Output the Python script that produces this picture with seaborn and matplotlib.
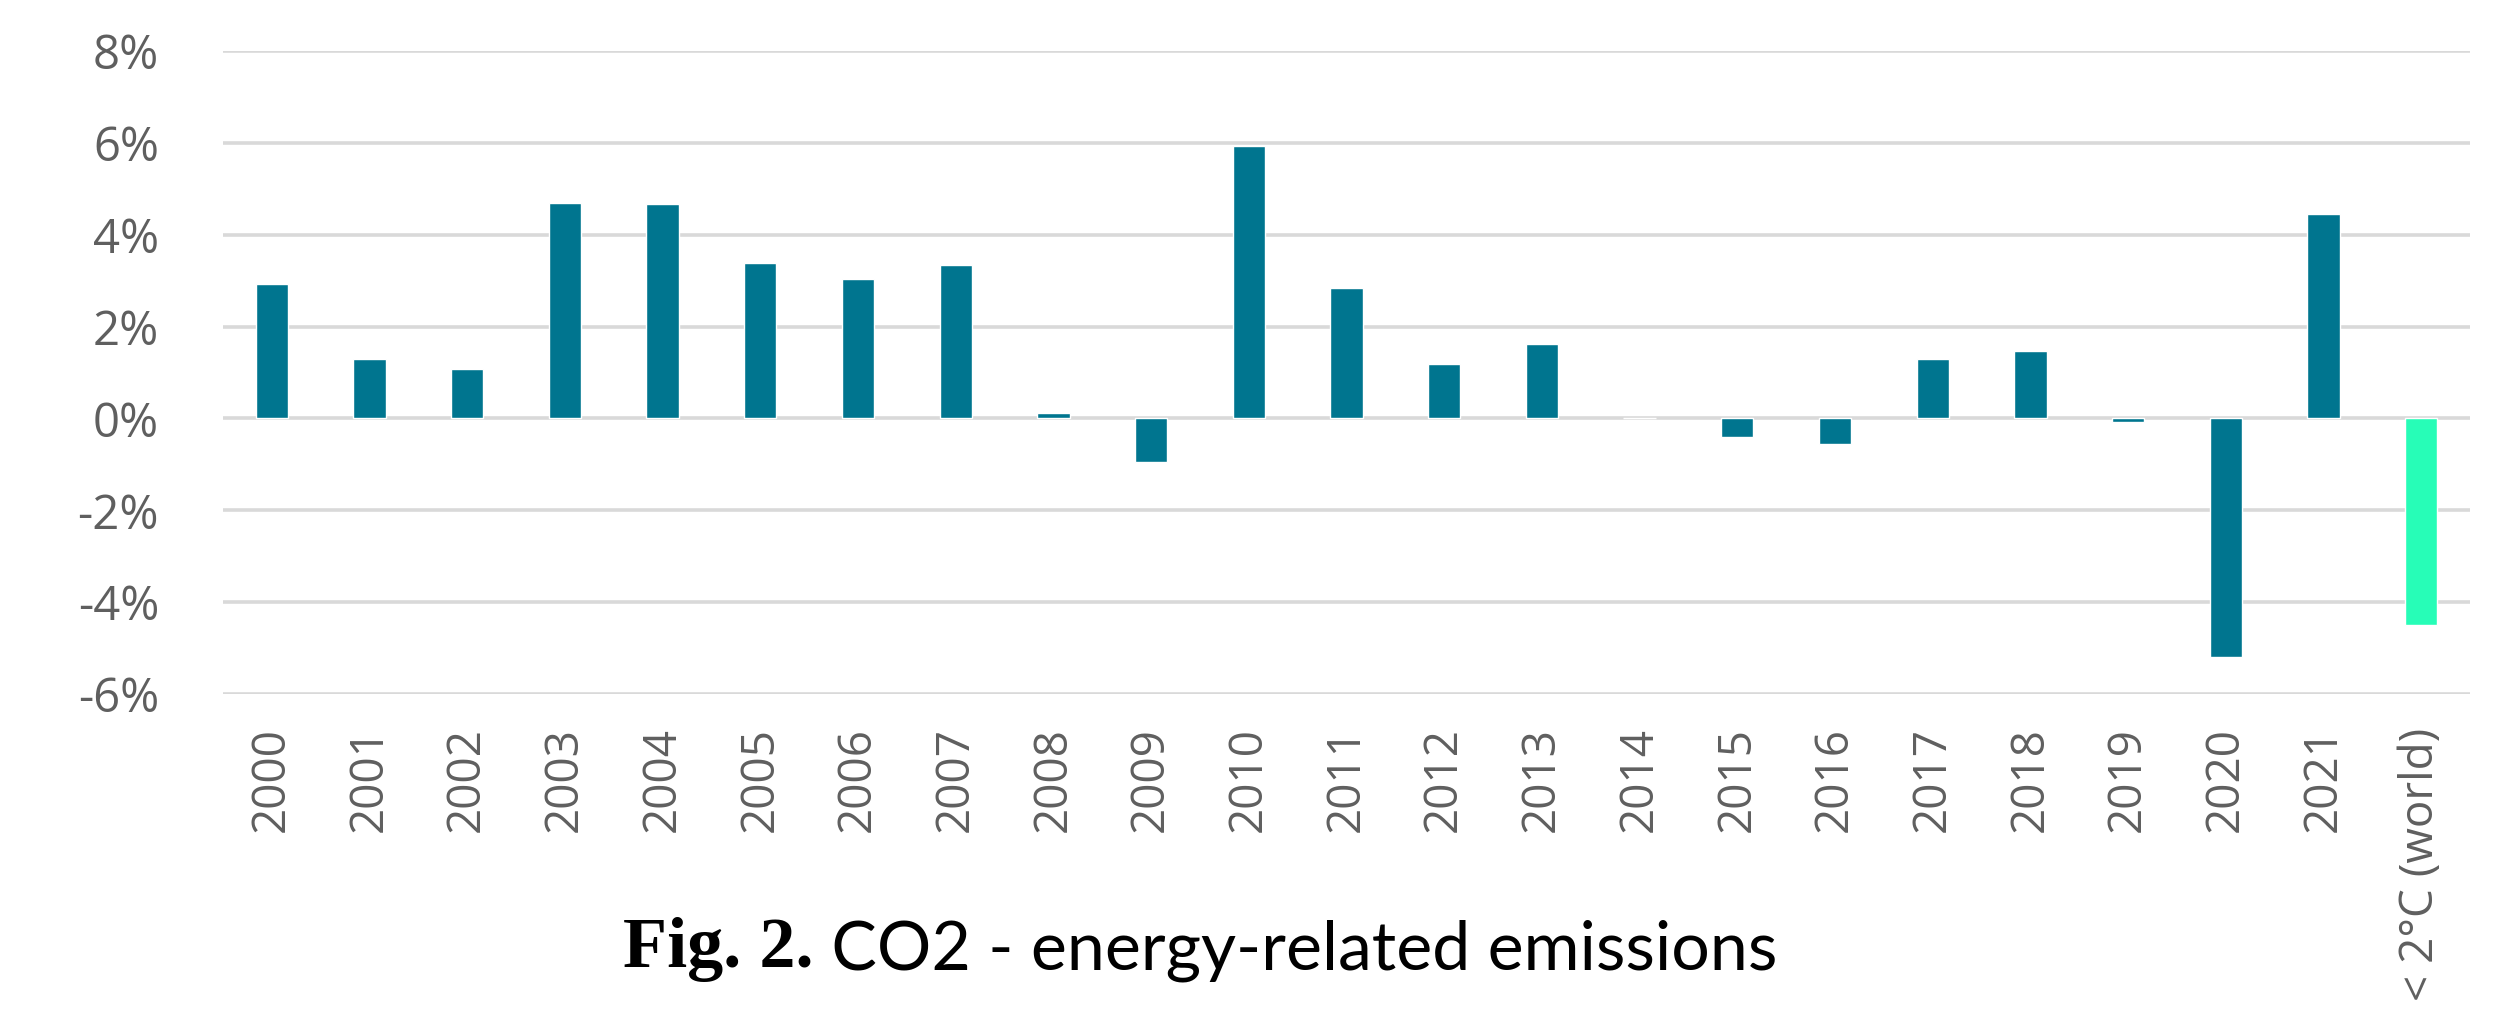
import matplotlib
matplotlib.use("Agg")
import matplotlib.pyplot as plt
from matplotlib.ticker import FuncFormatter
import seaborn as sns
import pandas as pd

# dados (variacao anual, %)
categories = ['2000', '2001', '2002', '2003', '2004', '2005', '2006', '2007',
              '2008', '2009', '2010', '2011', '2012', '2013', '2014', '2015',
              '2016', '2017', '2018', '2019', '2020', '2021', '< 2°C (world)']
values = [2.92, 1.30, 1.07, 4.70, 4.66, 3.39, 3.04, 3.35,
          0.12, -0.94, 5.92, 2.84, 1.18, 1.62, 0.0, -0.40,
          -0.55, 1.30, 1.46, -0.07, -5.20, 4.46, -4.49]
y_ticks = [-6, -4, -2, 0, 2, 4, 6, 8]

teal = '#00758F'
mint = '#27FDB7'
bar_colors = [teal] * (len(categories) - 1) + [mint]

df = pd.DataFrame({'cat': categories, 'val': values})

sns.set_style('white')
plt.rcParams['font.family'] = ['Open Sans', 'DejaVu Sans']

fig = plt.figure(figsize=(24.94, 10.13), dpi=100)
ax = fig.add_axes([0.0894, 0.3149, 0.9010, 0.6348])

_ = sns.barplot(data=df, x='cat', y='val', hue='cat', palette=bar_colors,
                legend=False, width=0.33, saturation=1, ax=ax)

ax.set_ylim(-6, 8)
ax.set_xlim(-0.5, len(categories) - 0.5)
ax.set_yticks(y_ticks)
ax.yaxis.set_major_formatter(FuncFormatter(lambda v, p: '%d%%' % v))
ax.yaxis.grid(True, color='#d9d9d9', linewidth=2.6)
ax.set_axisbelow(True)
sns.despine(ax=ax, left=True, bottom=True)
ax.tick_params(axis='y', length=0, pad=46, labelsize=34, labelcolor='#5f5f5f')
ax.tick_params(axis='x', length=0, pad=24, labelsize=33, labelcolor='#5f5f5f',
               rotation=90)
ax.set_xlabel('')
ax.set_ylabel('')

# legenda da figura: parte em negrito serif + resto sans
t1 = fig.text(0.2498, 0.0454, 'Fig. 2.', fontsize=52, fontweight='bold',
              family=['Liberation Serif', 'DejaVu Serif'], va='baseline',
              color='black')
ax.annotate(' CO2 - energy-related emissions', xy=(1, 0), xycoords=t1,
            fontsize=49, family=['Lato', 'DejaVu Sans'], va='bottom',
            color='black', annotation_clip=False)

fig.savefig('out.png', dpi=100)
